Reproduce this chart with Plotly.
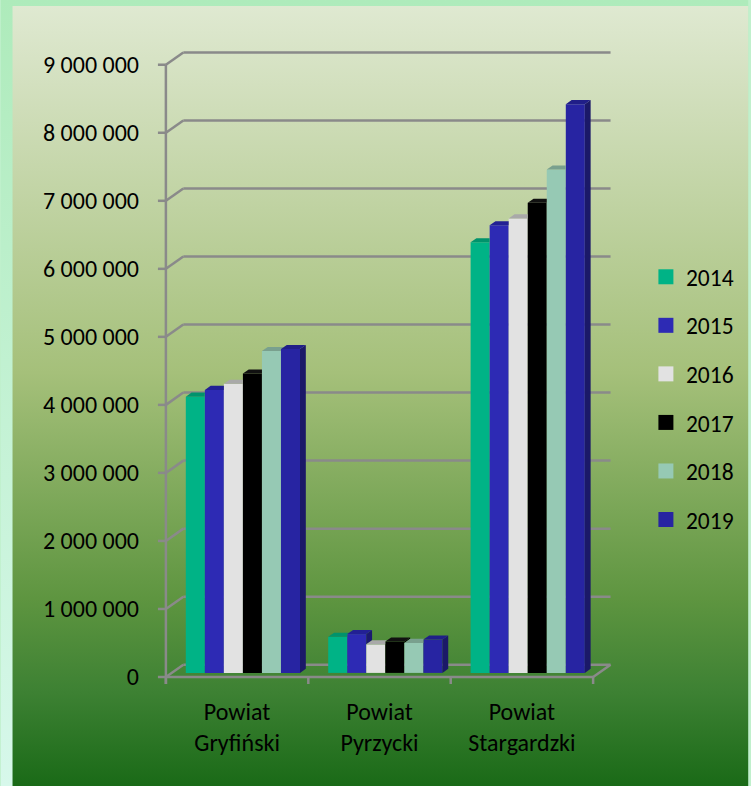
"""Wartości wg powiatów 2014-2019 — słupki 3D na gradientowym tle."""

import base64

import plotly.graph_objects as go

categories = ["Powiat<br>Gryfiński", "Powiat<br>Pyrzycki", "Powiat<br>Stargardzki"]
years = ["2014", "2015", "2016", "2017", "2018", "2019"]
v2014 = [4060000, 530000, 6330000]
v2015 = [4160000, 570000, 6580000]
v2016 = [4250000, 420000, 6680000]
v2017 = [4400000, 460000, 6910000]
v2018 = [4730000, 440000, 7400000]
v2019 = [4760000, 490000, 8360000]
y_ticks = [0, 1000000, 2000000, 3000000, 4000000, 5000000, 6000000, 7000000, 8000000, 9000000]
y_tick_labels = ["0", "1 000 000", "2 000 000", "3 000 000", "4 000 000",
                 "5 000 000", "6 000 000", "7 000 000", "8 000 000", "9 000 000"]

series = [v2014, v2015, v2016, v2017, v2018, v2019]
front_colors = ["#00b386", "#2d2ab4", "#e2e2e2", "#000000", "#96c9b4", "#2724a2"]
top_colors = ["#00936c", "#222094", "#a9a9a9", "#111111", "#79a08e", "#201e88"]
side_colors = ["#007a5a", "#1b1970", "#9a9a9a", "#000000", "#6b8f7e", "#1b1968"]

FONT = "Carlito, Lato, 'Open Sans', sans-serif"
GRID = "#8a8a8a"

# pixel geometry of the chart box (front plane: 0 at y=677, 68.03 px per million)
W, H = 751, 786
L, R, T, B = 140, 126, 40, 96
PX_X = 143.0
PX_M = 68.03
x_range = [-0.5 - (166 - L) / PX_X, -0.5 + (W - R - 166) / PX_X]
y_range = [-((H - B) - 677) / PX_M * 1e6, (677 - T) / PX_M * 1e6]

DX = 17.5 / PX_X          # depth of the 3D box in x units
DY = 12.3 / PX_M * 1e6    # depth of the 3D box in y units
GROUP_W = 0.802
BAR_W = GROUP_W / len(years)
BASE = DY / 3
ddx, ddy = DX / 3, DY / 3

n_cat = len(categories)
x_pos = [i + DX / 3 for i in range(n_cat)]

fig = go.Figure()

for j, (yr, vals) in enumerate(zip(years, series)):
    fig.add_trace(
        go.Bar(
            x=x_pos,
            y=vals,
            base=BASE,
            width=BAR_W,
            offset=-GROUP_W / 2 + j * BAR_W,
            marker=dict(color=front_colors[j], line=dict(width=0)),
            name=yr,
            legendgroup=yr,
            showlegend=False,
            hoverinfo="skip",
        )
    )

# top and side faces, clipped by the next (front) bar of the group
for j, vals in enumerate(series):
    sx, sy, tx, ty = [], [], [], []
    for c in range(n_cat):
        xl = x_pos[c] - GROUP_W / 2 + j * BAR_W
        xr = xl + BAR_W
        t = BASE + vals[c]
        nxt = BASE + series[j + 1][c] if j + 1 < len(series) else None
        sb = BASE if nxt is None else max(BASE, nxt)
        if sb < t:
            sx += [xr, xr, xr + ddx, xr + ddx, xr, None]
            sy += [sb, t, t + ddy, sb + ddy, sb, None]
        m = t if nxt is None else min(max(nxt, t), t + ddy)
        tx += [xl, xr, xr, xr + (t + ddy - m) / ddy * ddx, xl + ddx, xl, None]
        ty += [t, t, m, t + ddy, t + ddy, t, None]
    for px_, py_, col in ((sx, sy, side_colors[j]), (tx, ty, top_colors[j])):
        if not px_:
            continue
        fig.add_trace(
            go.Scatter(
                x=px_, y=py_, mode="lines", fill="toself", fillcolor=col,
                line=dict(width=0), hoverinfo="skip", showlegend=False,
            )
        )

# legend entries: bigger square keys than the bar default
for j, yr in enumerate(years):
    fig.add_trace(
        go.Scatter(
            x=[None], y=[None], mode="markers", name=yr, legendgroup=yr,
            marker=dict(symbol="square", size=15, color=front_colors[j], line=dict(width=0)),
        )
    )

# 3D frame: back wall grid, left wall diagonals, front axis and floor
shapes = []
line = dict(color=GRID, width=2.5)
x0, x1 = -0.5, n_cat - 0.5
for v in y_ticks:
    shapes.append(dict(type="line", x0=x0 + DX, x1=x1 + DX, y0=v + DY, y1=v + DY, line=line, layer="below"))
    shapes.append(dict(type="line", x0=x0, x1=x0 + DX, y0=v, y1=v + DY, line=line, layer="below"))
    shapes.append(dict(type="line", x0=x0 - 8 / PX_X, x1=x0, y0=v, y1=v, line=line, layer="below"))
tick_down = 7 / PX_M * 1e6
shapes.append(dict(type="line", x0=x0, x1=x0, y0=-tick_down, y1=y_ticks[-1], line=line, layer="below"))
shapes.append(dict(type="line", x0=x0, x1=x1, y0=0, y1=0, line=line, layer="below"))
shapes.append(dict(type="line", x0=x1, x1=x1 + DX, y0=0, y1=DY, line=line, layer="below"))
for i in range(n_cat + 1):
    shapes.append(dict(type="line", x0=x0 + i, x1=x0 + i, y0=0, y1=-tick_down, line=line, layer="below"))

# background: mint frame + vertical green gradient
svg = f"""<svg xmlns="http://www.w3.org/2000/svg" width="{W}" height="{H}" viewBox="0 0 {W} {H}" preserveAspectRatio="none">
<defs>
<linearGradient id="m" x1="0" y1="0" x2="0" y2="1">
<stop offset="0" stop-color="#aeebbb"/><stop offset="1" stop-color="#d7f8eb"/></linearGradient>
<linearGradient id="g" x1="0" y1="0" x2="0" y2="1">
<stop offset="0" stop-color="#dfe9d1"/><stop offset="0.1" stop-color="#d3e0bf"/>
<stop offset="0.47" stop-color="#a5c07a"/><stop offset="0.76" stop-color="#5e9540"/>
<stop offset="0.88" stop-color="#3d8133"/><stop offset="1" stop-color="#1a6a17"/></linearGradient>
</defs>
<rect width="{W}" height="{H}" fill="url(#m)"/>
<rect x="12" y="6" width="{W - 12}" height="{H - 6}" fill="url(#g)"/>
</svg>"""
svg_uri = "data:image/svg+xml;base64," + base64.b64encode(svg.encode()).decode()
pw, ph = W - L - R, H - T - B

fig.update_layout(
    width=W,
    height=H,
    margin=dict(l=L, r=R, t=T, b=B, pad=0),
    paper_bgcolor="#c0f0cc",
    plot_bgcolor="rgba(0,0,0,0)",
    barmode="overlay",
    font=dict(family=FONT, size=24, color="#000000"),
    shapes=shapes,
    images=[
        dict(
            source=svg_uri, xref="paper", yref="paper",
            x=-L / pw, y=1 + T / ph, sizex=W / pw, sizey=H / ph,
            xanchor="left", yanchor="top", sizing="stretch", layer="below",
        )
    ],
    legend=dict(
        x=(648 - L) / pw, y=(H - B - 255) / ph, xanchor="left", yanchor="top",
        bgcolor="rgba(0,0,0,0)", font=dict(size=23.5), tracegroupgap=15,
        traceorder="grouped", itemsizing="trace",
    ),
    showlegend=True,
)
fig.update_xaxes(
    range=x_range, tickmode="array", tickvals=list(range(n_cat)), ticktext=categories,
    showgrid=False, zeroline=False, showline=False, ticks="", fixedrange=True,
    tickfont=dict(size=24), ticklabelstandoff=5,
)
fig.update_yaxes(
    range=y_range, tickmode="array", tickvals=y_ticks, ticktext=y_tick_labels,
    showgrid=False, zeroline=False, showline=False, ticks="", fixedrange=True,
)

fig.write_html(
    "out.html",
    config={"displayModeBar": False},
    post_script="document.body.style.margin = '0';",
)
